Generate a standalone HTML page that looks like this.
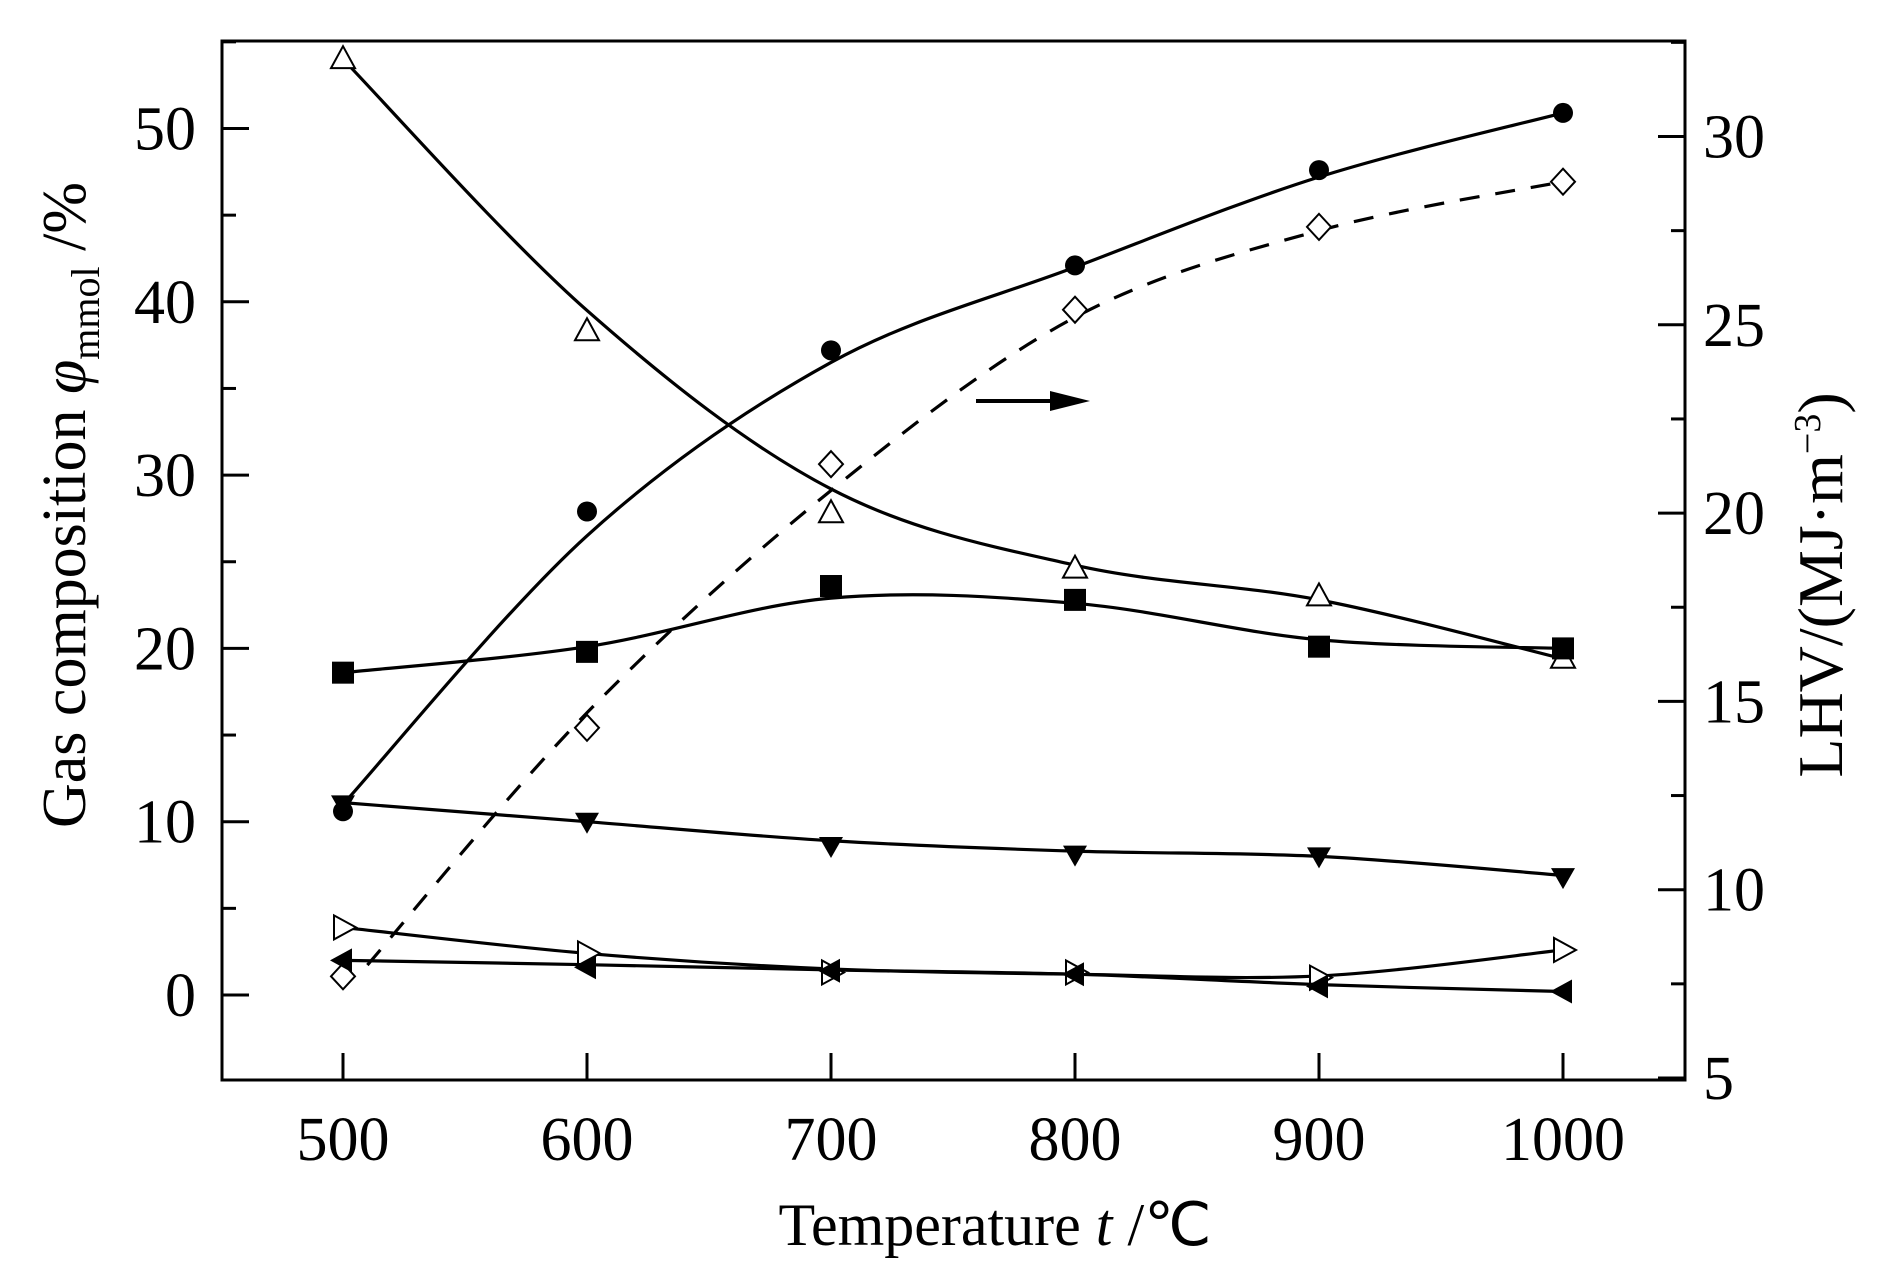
<!DOCTYPE html>
<html><head><meta charset="utf-8"><style>
html,body{margin:0;padding:0;background:#fff;width:1890px;height:1276px;overflow:hidden}
svg{display:block}
text{font-family:"Liberation Serif",serif;fill:#000}
</style></head><body>
<svg id="chart" width="1890" height="1276" viewBox="0 0 1890 1276" xmlns="http://www.w3.org/2000/svg">
<g id="axes"></g>
<g id="series"></g>
<text transform="translate(85,505) rotate(-90)" text-anchor="middle" font-size="62">Gas composition  <tspan font-style="italic">φ</tspan><tspan font-size="40" dy="14">mmol</tspan><tspan dy="-14"> /%</tspan></text>
<text transform="translate(1842,585) rotate(-90)" text-anchor="middle" font-size="64">LHV/(MJ·m<tspan font-size="38" dy="-22">−3</tspan><tspan dy="22">)</tspan></text>
<text x="995" y="1245" text-anchor="middle" font-size="60">Temperature     <tspan font-style="italic">t</tspan> /℃</text>
<g><line x1="976" y1="401" x2="1055" y2="401" stroke="#000" stroke-width="4"/><polygon points="1050,391 1090,401 1050,411" fill="#000"/></g>
</svg>
<script>
const temps=[500,600,700,800,900,1000];
const h2=[54,38.3,27.8,24.6,23,19.4];            // open triangle
const co=[10.6,27.9,37.2,42.1,47.6,50.9];        // filled circle
const co2=[18.6,19.8,23.6,22.8,20.1,20.0];       // filled square
const ch4=[11,10,8.6,8.1,8,6.8];                 // down triangle
const c2=[3.9,2.4,1.3,1.3,1.0,2.6];              // open right triangle
const n2=[2.0,1.6,1.4,1.2,0.5,0.2];              // filled left triangle
const lhv=[7.7,14.3,21.3,25.4,27.6,28.8];        // open diamond (right axis)
// fitted curve values
const h2Fit=[54,39.5,29.2,24.8,22.8,19.4];
const coFit=[11,26.5,36.5,42,47.2,50.9];
const co2Fit=[18.6,20.1,22.9,22.6,20.5,20.0];
const ch4Fit=[11.1,10,8.9,8.3,8,6.9];
const c2Fit=[3.9,2.4,1.5,1.2,1.1,2.6];
const n2Fit=[2.0,1.75,1.45,1.2,0.6,0.2];
const lhvFit=[8.0,14.7,20.6,25.2,27.5,28.8];
const xTicks=[500,600,700,800,900,1000];
const yTicks=[0,10,20,30,40,50];
const y2Ticks=[5,10,15,20,25,30];

const L=222,R=1685,T=41,B=1080;
const xs=t=>343+(t-500)*2.44;
const ys=v=>995-v*17.33;
const ys2=v=>1078-(v-5)*37.66;
const NS='http://www.w3.org/2000/svg';
function el(tag,attrs,parent){const e=document.createElementNS(NS,tag);for(const k in attrs)e.setAttribute(k,attrs[k]);parent.appendChild(e);return e;}
const ax=document.getElementById('axes'),sg=document.getElementById('series');
const frame=el('rect',{x:L,y:T,width:R-L,height:B-T,fill:'none',stroke:'#000','stroke-width':3},ax);


xTicks.forEach(t=>{
  const ln=el('line',{x1:xs(t),x2:xs(t),y1:B,y2:B-27,stroke:'#000','stroke-width':3},ax);
  
  
  const tx=el('text',{x:xs(t),y:1160,'text-anchor':'middle','font-size':62},ax);tx.textContent=t;
  
  
});
for(let v=-5;v<=55;v+=5){const major=v%10===0;if(ys(v)<T||ys(v)>B)continue;
  const ln=el('line',{x1:L,x2:L+(major?27:14),y1:ys(v),y2:ys(v),stroke:'#000','stroke-width':3},ax);
  
  }
yTicks.forEach(v=>{const tx=el('text',{x:196,y:ys(v)+21,'text-anchor':'end','font-size':62},ax);tx.textContent=v;
  
  });
for(let v=5;v<=32.5;v+=2.5){const major=v%5===0;
  const ln=el('line',{x1:R,x2:R-(major?27:14),y1:ys2(v),y2:ys2(v),stroke:'#000','stroke-width':3},ax);
  
  }
y2Ticks.forEach(v=>{const tx=el('text',{x:1703,y:ys2(v)+21,'font-size':62},ax);tx.textContent=v;
  
  });

function spline(pts){let d='M'+pts[0][0]+','+pts[0][1];
  for(let i=0;i<pts.length-1;i++){const p0=pts[Math.max(0,i-1)],p1=pts[i],p2=pts[i+1],p3=pts[Math.min(pts.length-1,i+2)];
    const c1=[p1[0]+(p2[0]-p0[0])/6,p1[1]+(p2[1]-p0[1])/6],c2=[p2[0]-(p3[0]-p1[0])/6,p2[1]-(p3[1]-p1[1])/6];
    d+=' C'+c1+' '+c2+' '+p2;}return d;}
function marker(type,x,y,g){const s=11;let e;
  if(type==='circle')e=el('circle',{cx:x,cy:y,r:10,fill:'#000'},g);
  else if(type==='square')e=el('rect',{x:x-s,y:y-s,width:2*s,height:2*s,fill:'#000'},g);
  else if(type==='up')e=el('polygon',{points:`${x},${y-13} ${x-12},${y+9} ${x+12},${y+9}`,fill:'#fff',stroke:'#000','stroke-width':2},g);
  else if(type==='down')e=el('polygon',{points:`${x},${y+12} ${x-12},${y-9} ${x+12},${y-9}`,fill:'#000'},g);
  else if(type==='right')e=el('polygon',{points:`${x+13},${y} ${x-9},${y-12} ${x-9},${y+12}`,fill:'#fff',stroke:'#000','stroke-width':2},g);
  else if(type==='left')e=el('polygon',{points:`${x-13},${y} ${x+9},${y-12} ${x+9},${y+12}`,fill:'#000'},g);
  else if(type==='diamond')e=el('polygon',{points:`${x},${y-13} ${x+12},${y} ${x},${y+13} ${x-12},${y}`,fill:'#fff',stroke:'#000','stroke-width':2},g);
  
  }
function series(name,vals,fit,type,yf,dash){const g=el('g',{},sg);
  
  
  const fp=temps.map((t,i)=>[xs(t),yf(fit[i])]);
  if(dash)fp[0]=[xs(510),yf(fit[0])];
  const p=el('path',{d:spline(fp),fill:'none',stroke:'#000','stroke-width':3.2},g);
  if(dash)p.setAttribute('stroke-dasharray','20 16');
  
  
  temps.forEach((t,i)=>marker(type,xs(t),yf(vals[i]),g));}
series('lhv-series',lhv,lhvFit,'diamond',ys2,true);
series('h2-series',h2,h2Fit,'up',ys);
series('co-series',co,coFit,'circle',ys);
series('co2-series',co2,co2Fit,'square',ys);
series('ch4-series',ch4,ch4Fit,'down',ys);
series('c2-series',c2,c2Fit,'right',ys);
series('n2-series',n2,n2Fit,'left',ys);
</script>
</body></html>
